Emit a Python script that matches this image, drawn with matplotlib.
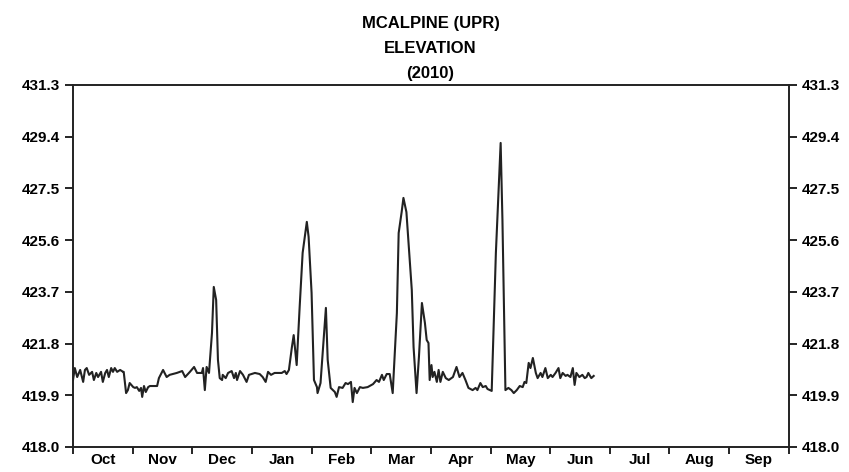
import matplotlib
matplotlib.use("Agg")
import matplotlib.pyplot as plt
import numpy as np

plt.rcParams['font.family'] = ['Liberation Sans', 'DejaVu Sans']
plt.rcParams['font.weight'] = 'bold'

# water-year months (Oct 2009 - Sep 2010), equally spaced on the axis
months = ['Oct', 'Nov', 'Dec', 'Jan', 'Feb', 'Mar', 'Apr', 'May', 'Jun', 'Jul', 'Aug', 'Sep']
yticks = [418.0, 419.9, 421.8, 423.7, 425.6, 427.5, 429.4, 431.3]

# position in months since Oct 1
month_pos = [
    0.00, 0.03, 0.07, 0.12, 0.17, 0.20, 0.23, 0.27, 0.32, 0.35, 0.39, 0.42, 0.47, 0.50,
    0.54, 0.57, 0.60, 0.64, 0.67, 0.70, 0.74, 0.79, 0.84, 0.85, 0.89, 0.92, 0.95, 1.01,
    1.04, 1.07, 1.11, 1.14, 1.16, 1.19, 1.22, 1.26, 1.29, 1.41, 1.44, 1.51, 1.57, 1.62,
    1.74, 1.83, 1.88, 1.96, 2.03, 2.08, 2.16, 2.18, 2.21, 2.24,
    2.28, 2.33, 2.36, 2.40, 2.43, 2.46, 2.50, 2.51, 2.56, 2.60, 2.66, 2.70, 2.73, 2.75,
    2.80, 2.85, 2.91, 2.95, 3.05, 3.13, 3.18, 3.23, 3.27, 3.32, 3.38, 3.50, 3.55, 3.58,
    3.62, 3.67, 3.70, 3.75, 3.80, 3.85, 3.92, 3.95, 4.00, 4.04, 4.09, 4.10, 4.15, 4.19,
    4.24, 4.27, 4.32, 4.39, 4.42, 4.46,
    4.52, 4.57, 4.61, 4.66, 4.69, 4.72, 4.76, 4.81, 4.86, 4.94, 5.03, 5.09, 5.13, 5.18,
    5.21, 5.26, 5.31, 5.36, 5.43, 5.46, 5.51, 5.54, 5.59, 5.63, 5.68, 5.71, 5.76, 5.80,
    5.85, 5.90, 5.93, 5.96, 5.98, 6.01, 6.03, 6.06, 6.10, 6.13, 6.16, 6.20, 6.25, 6.30,
    6.37, 6.40, 6.43, 6.48, 6.53,
    6.58, 6.63, 6.70, 6.75, 6.78, 6.83, 6.87, 6.92, 6.95, 7.02, 7.09, 7.17, 7.20, 7.25,
    7.30, 7.35, 7.39, 7.44, 7.49, 7.54, 7.57, 7.60, 7.64, 7.67, 7.71, 7.76, 7.79, 7.84,
    7.87, 7.92, 7.96, 8.01, 8.04, 8.09, 8.14, 8.17, 8.21, 8.26, 8.29, 8.34, 8.38, 8.41,
    8.44, 8.49, 8.54, 8.58, 8.61, 8.64, 8.69, 8.73,
]

elevation = [
    420.46, 420.90, 420.57, 420.83, 420.39, 420.83, 420.90, 420.65, 420.76, 420.46, 420.72, 420.57, 420.76, 420.39,
    420.72, 420.83, 420.57, 420.90, 420.76, 420.90, 420.76, 420.83, 420.76, 420.76, 419.98, 420.09, 420.35, 420.20,
    420.17, 420.20, 420.06, 420.17, 419.84, 420.24, 420.02, 420.20, 420.24, 420.24, 420.53, 420.83, 420.57, 420.65,
    420.72, 420.79, 420.57, 420.76, 420.94, 420.72, 420.72, 420.90, 420.09, 420.94,
    420.72, 422.19, 423.88, 423.40, 421.20, 420.53, 420.46, 420.65, 420.53, 420.72, 420.79, 420.53, 420.72, 420.46,
    420.79, 420.65, 420.39, 420.65, 420.72, 420.68, 420.57, 420.39, 420.76, 420.65, 420.72, 420.72, 420.79, 420.68,
    420.83, 421.67, 422.11, 421.01, 423.14, 425.13, 426.27, 425.72, 423.66, 420.46, 420.20, 419.98, 420.35, 421.56,
    423.11, 421.20, 420.17, 420.02, 419.84, 420.20,
    420.17, 420.35, 420.31, 420.39, 419.65, 420.17, 419.98, 420.20, 420.17, 420.20, 420.31, 420.46, 420.39, 420.65,
    420.46, 420.68, 420.68, 419.98, 422.92, 425.86, 426.63, 427.15, 426.63, 425.35, 423.77, 421.67, 419.98, 421.31,
    423.29, 422.56, 421.93, 421.82, 420.46, 421.01, 420.57, 420.76, 420.39, 420.83, 420.39, 420.76, 420.53, 420.46,
    420.57, 420.76, 420.94, 420.57, 420.72,
    420.46, 420.17, 420.09, 420.17, 420.09, 420.35, 420.20, 420.24, 420.13, 420.06, 425.13, 429.17, 426.34, 420.09,
    420.17, 420.09, 419.98, 420.09, 420.24, 420.20, 420.39, 420.35, 421.09, 420.90, 421.27, 420.72, 420.53, 420.72,
    420.57, 420.90, 420.53, 420.65, 420.57, 420.72, 420.90, 420.53, 420.72, 420.61, 420.65, 420.57, 420.90, 420.28,
    420.72, 420.57, 420.65, 420.53, 420.57, 420.72, 420.53, 420.61,
]

fig = plt.figure(figsize=(8.49, 4.72), dpi=100)
ax = fig.add_axes([0.086, 0.053, 0.843, 0.767])

ax.plot(month_pos, elevation, color='#222222', lw=1.5)

ax.set_xlim(0, 12)
ax.set_ylim(418.0, 431.3)

ax.set_xticks(np.arange(0, 13))
ax.set_xticklabels([])
ax.set_xticks(np.arange(12) + 0.5, minor=True)
ax.set_xticklabels(months, minor=True)
ax.tick_params(axis='x', which='major', direction='out', length=5, width=1.2)
ax.tick_params(axis='x', which='minor', length=0, pad=4, labelsize=11)

ax.set_yticks(yticks)
ax.set_yticklabels([f'{v:.1f}' for v in yticks])
ax.tick_params(axis='y', direction='out', length=6, width=1.2, labelsize=11,
               left=True, right=True, labelleft=True, labelright=True)

for s in ax.spines.values():
    s.set_linewidth(1.4)
    s.set_color('#222222')

for lab in ax.get_xticklabels(minor=True) + ax.get_yticklabels():
    lab.set_fontweight('bold')

title_lines = ['MCALPINE (UPR)', 'ELEVATION', '(2010)']
for i, t in enumerate(title_lines):
    fig.text(0.507, 0.950 - i * 0.053, t, ha='center', va='center',
             fontsize=12, fontweight='bold')

fig.savefig('out.png', dpi=100)
